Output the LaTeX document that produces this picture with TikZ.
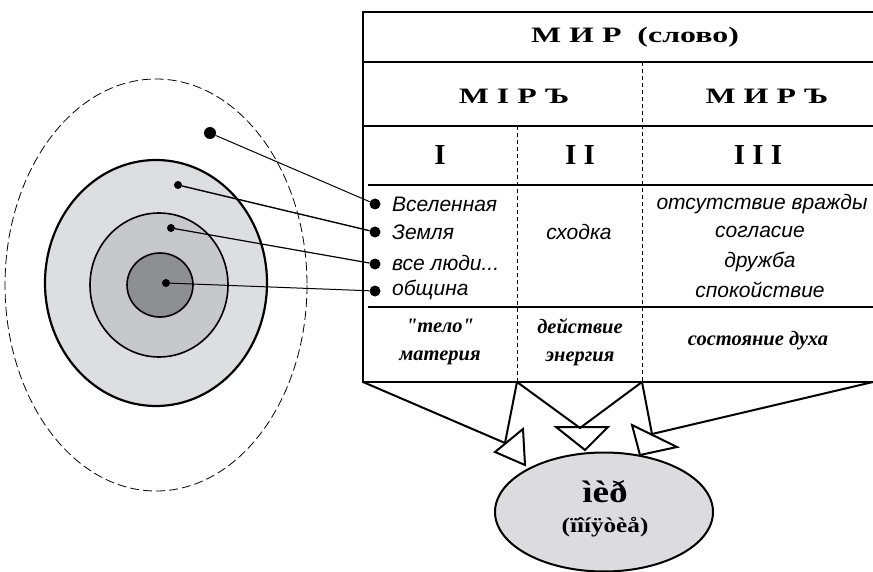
\documentclass[tikz,border=0pt]{standalone}
\usepackage{fontspec}
\setmainfont{Liberation Serif}[Ligatures=TeXOff]
\newfontfamily\itemfont{Liberation Sans}
\newfontfamily\widefont{Liberation Serif}[FakeStretch=1.45]
\newfontfamily\ovalfont{Liberation Serif}[FakeStretch=1.2]
\usetikzlibrary{shapes.geometric}
\definecolor{earthgray}{RGB}{221,222,224}
\definecolor{peoplegray}{RGB}{199,200,202}
\definecolor{communegray}{RGB}{142,143,145}
\definecolor{ovalgray}{RGB}{220,220,222}

\begin{document}
\begin{tikzpicture}[x=1pt, y=-1pt,
  head/.style={font=\widefont\bfseries\fontsize{22}{24}\selectfont},
  numeral/.style={font=\bfseries\fontsize{29}{30}\selectfont},
  item/.style={font=\itemfont\itshape\fontsize{21}{22}\selectfont, anchor=west, inner sep=0pt},
  sense/.style={font=\itemfont\itshape\fontsize{21}{22}\selectfont},
  gloss/.style={font=\bfseries\itshape\fontsize{20.5}{28}\selectfont, align=center},
  bullet/.style={circle, fill=black, inner sep=0pt, minimum size=11pt},
  pin/.style={circle, fill=black, inner sep=0pt, minimum size=8pt},
  rule/.style={line width=1.4pt},
  split/.style={line width=0.9pt, dash pattern=on 4pt off 3pt},
  funnel/.style={line width=2pt, line join=miter}]
\useasboundingbox (0,0) rectangle (873,572);

\draw[line width=0.8pt, dash pattern=on 9pt off 4pt] (156,285) ellipse (151 and 206);
\draw[line width=2.2pt, fill=earthgray] (156,283) ellipse (111 and 123);
\draw[line width=1.6pt, fill=peoplegray] (159,285) ellipse (69 and 72);
\draw[line width=1.6pt, fill=communegray] (160,285) ellipse (33 and 32);

\node[pin, minimum size=12pt] (universe) at (210,133) {};
\node[pin] (earth) at (178,185) {};
\node[pin] (people) at (171,228) {};
\node[pin] (commune) at (166,283) {};

\draw[line width=2pt] (873,12) -- (363,12) -- (363,382) -- (873,382);
\draw[line width=1.2pt] (363,62) -- (873,62);
\draw[rule] (363,126) -- (873,126);
\draw[line width=1.2pt] (368,185) -- (873,185);
\draw[rule] (368,307) -- (873,307);
\draw[split] (517,126) -- (517,382);
\draw[split] (642,62) -- (642,382);

\node[head] (word) at (635,37) {М И Р~~(слово)};
\node[head] (mirold) at (514,96) {М І Р Ъ};
\node[head] (mirnew) at (767,96) {М И Р Ъ};
\node[numeral] (one) at (440,155) {I};
\node[numeral] (two) at (580,155) {I I};
\node[numeral] (three) at (758,155) {I I I};

\node[bullet] (b1) at (375,204) {};
\node[bullet] (b2) at (375,232) {};
\node[bullet] (b3) at (375,264) {};
\node[bullet] (b4) at (375,291) {};
\node[item] at (392,204) {Вселенная};
\node[item] at (392,232) {Земля};
\node[item] at (392,263) {все люди...};
\node[item] at (392,290) {община};
\node[sense] (gathering) at (579,232) {сходка};
\node[sense] (enmity) at (762,204) {отсутствие вражды};
\node[sense] (accord) at (760,232) {согласие};
\node[sense] (friendship) at (760,262) {дружба};
\node[sense] (calm) at (760,290) {спокойствие};

\node[gloss] (body) at (440,342) {"тело"\\материя};
\node[gloss] (action) at (580,342) {действие\\энергия};
\node[gloss] (spirit) at (758,341) {состояние духа};

\draw[line width=1pt] (universe) -- (b1);
\draw[line width=1.4pt] (earth) -- (b2);
\draw[line width=1.2pt] (people) -- (b3);
\draw[line width=1pt] (commune) -- (b4);

\coordinate (bl) at (363,382);
\coordinate (c1) at (517,382);
\coordinate (c2) at (642,382);
\coordinate (br) at (873,382);
\coordinate (m1) at (505,443);
\coordinate (m2) at (580,428);
\coordinate (m3) at (652,434);
\draw[funnel] (bl) -- (m1) -- (c1);
\draw[funnel] (c1) -- (m2) -- (c2);
\draw[funnel] (c2) -- (m3) -- (br);
\draw[funnel] (495,452) -- (523,429) -- (525,465) -- cycle;
\draw[funnel] (556,427) -- (608,427) -- (585,450) -- cycle;
\draw[funnel] (632,425) -- (677,447) -- (640,455) -- cycle;

\node[ellipse, draw, line width=2pt, fill=ovalgray, minimum width=218pt, minimum height=119pt]
      (concept) at (604,512) {};
\node[font=\ovalfont\bfseries\fontsize{31}{31}\selectfont] (conceptword) at (605,492) {ìèð};
\node[font=\ovalfont\bfseries\fontsize{21}{22}\selectfont] (conceptgloss) at (605,527) {(ïîíÿòèå)};
\end{tikzpicture}
\end{document}
